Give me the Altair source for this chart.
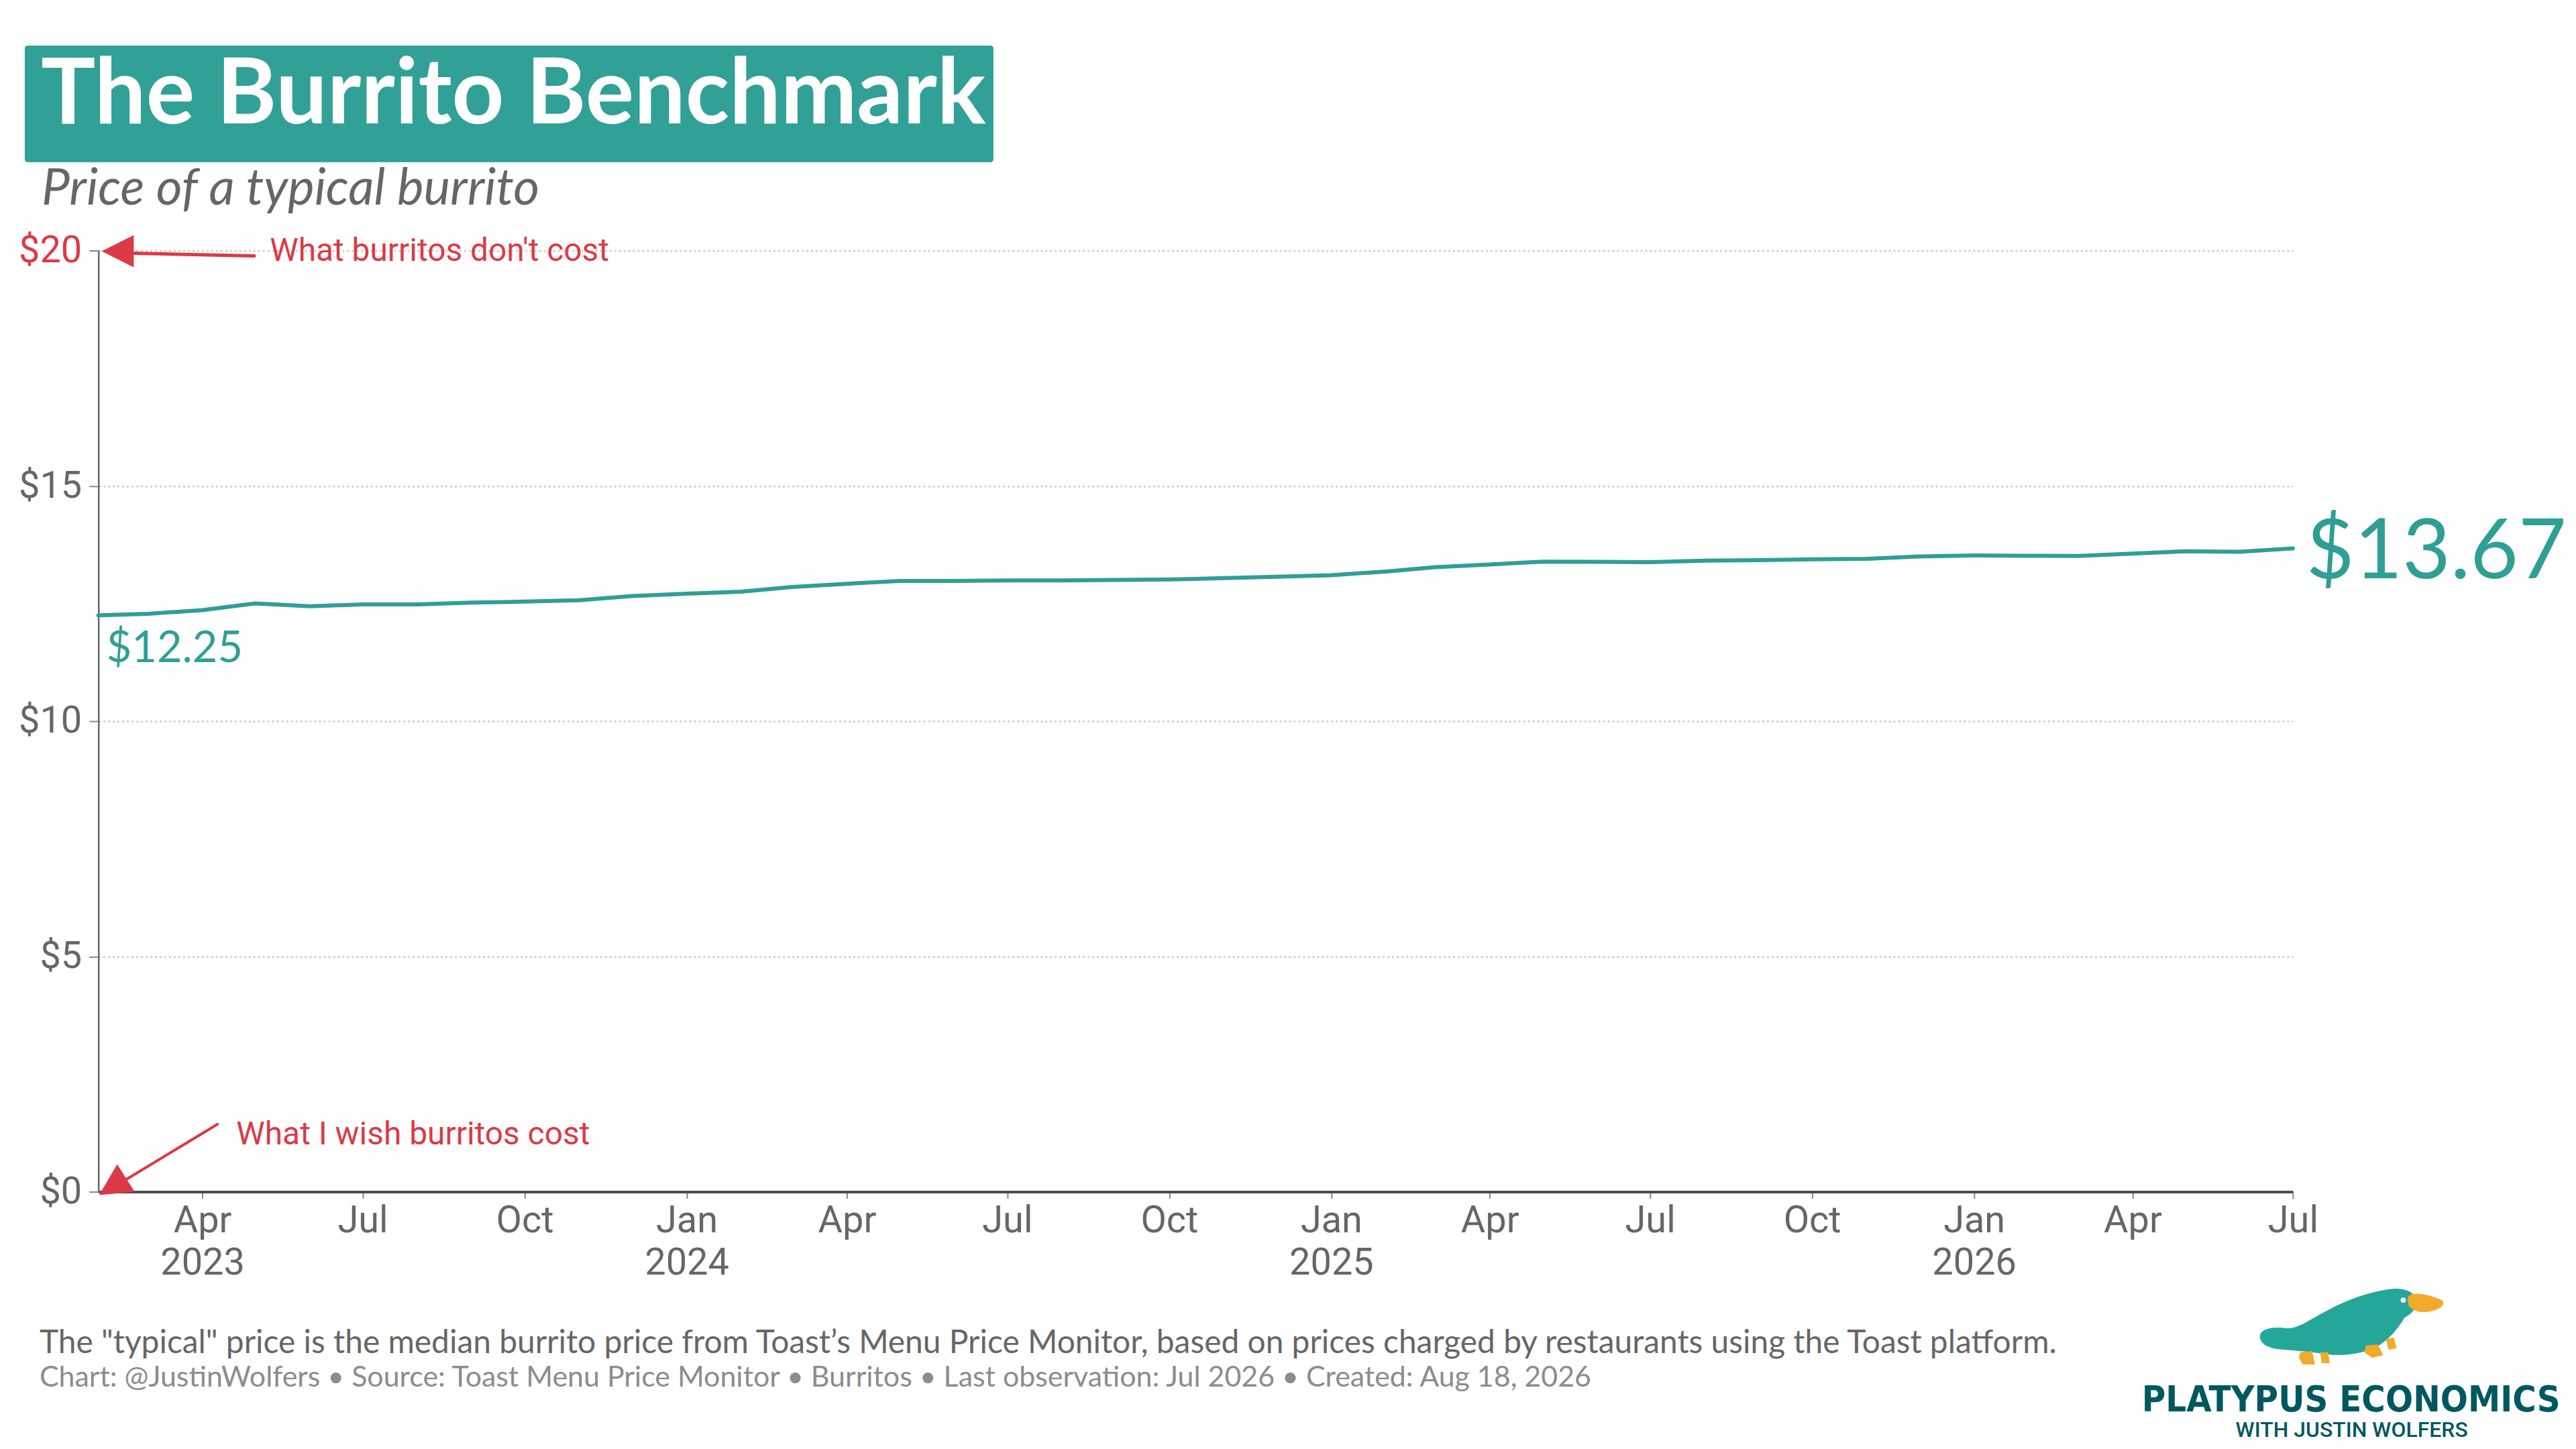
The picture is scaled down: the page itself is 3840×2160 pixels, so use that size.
import altair as alt
import pandas as pd

# ---------------- data ----------------
months = [
    "2023-02-01", "2023-03-01", "2023-04-01", "2023-05-01", "2023-06-01", "2023-07-01",
    "2023-08-01", "2023-09-01", "2023-10-01", "2023-11-01", "2023-12-01",
    "2024-01-01", "2024-02-01", "2024-03-01", "2024-04-01", "2024-05-01", "2024-06-01",
    "2024-07-01", "2024-08-01", "2024-09-01", "2024-10-01", "2024-11-01", "2024-12-01",
    "2025-01-01", "2025-02-01", "2025-03-01", "2025-04-01", "2025-05-01", "2025-06-01",
    "2025-07-01", "2025-08-01", "2025-09-01", "2025-10-01", "2025-11-01", "2025-12-01",
    "2026-01-01", "2026-02-01", "2026-03-01", "2026-04-01", "2026-05-01", "2026-06-01",
    "2026-07-01",
]
prices = [
    12.25, 12.28, 12.36, 12.50, 12.44, 12.48, 12.48, 12.52, 12.54, 12.57, 12.66,
    12.71, 12.75, 12.85, 12.92, 12.98, 12.98, 12.99, 12.99, 13.00, 13.01, 13.04, 13.07,
    13.10, 13.18, 13.27, 13.33, 13.39, 13.385, 13.38, 13.41, 13.42, 13.44, 13.45, 13.50,
    13.52, 13.515, 13.51, 13.56, 13.61, 13.60, 13.67,
]
y_ticks = [0, 5, 10, 15, 20]
x_tick_months = [
    (2023, 4), (2023, 7), (2023, 10), (2024, 1), (2024, 4), (2024, 7), (2024, 10),
    (2025, 1), (2025, 4), (2025, 7), (2025, 10), (2026, 1), (2026, 4), (2026, 7),
]
note_points_date = ["2023-02-01", "2023-02-01"]
note_points_price = [20, 0]

TITLE = "The Burrito Benchmark"
SUBTITLE = "Price of a typical burrito"
NOTE_HIGH = "What burritos don't cost"
NOTE_LOW = "What I wish burritos cost"
FOOT1 = ('The "typical" price is the median burrito price from Toast\u2019s Menu Price Monitor, '
         'based on prices charged by restaurants using the Toast platform.')
FOOT2 = ("Chart: @JustinWolfers \u2022 Source: Toast Menu Price Monitor \u2022 Burritos \u2022 "
         "Last observation: Jul 2026 \u2022 Created: Aug 18, 2026")
LOGO1 = "PLATYPUS ECONOMICS"
LOGO2 = "WITH JUSTIN WOLFERS"

# ---------------- styles ----------------
TEAL = "#2f9f95"
RED = "#db3a46"
GRAY = "#666666"
W, H = 3278, 1406

df = pd.DataFrame({"date": months, "price": prices})
df["label"] = ["$" + format(p, ".2f") for p in prices]
first = df.iloc[[0]]
last = df.iloc[[-1]]
notes = pd.DataFrame({"date": note_points_date, "price": note_points_price})
one = pd.DataFrame({"k": [0]})


def dt(y, m, d=1):
    return alt.DateTime(year=y, month=m, date=d, utc=True)


x_enc = alt.X(
    "date:T",
    scale=alt.Scale(type="utc", domain=[dt(2023, 2), dt(2026, 7)]),
    axis=alt.Axis(
        values=[dt(y, m) for y, m in x_tick_months],
        labelExpr=("(utcmonth(datum.value) == 0 || (utcyear(datum.value) == 2023 && utcmonth(datum.value) == 3))"
                   " ? [utcFormat(datum.value, '%b'), utcFormat(datum.value, '%Y')] : utcFormat(datum.value, '%b')"),
        title=None, grid=False, tickSize=10, tickColor="#888888", tickWidth=2,
        domainColor="#4d4d4d", domainWidth=4, labelFont="Roboto", labelFontSize=56,
        labelColor=GRAY, labelPadding=6, labelBaseline="top", labelLineHeight=63,
        labelFlush=False, labelOverlap=False,
    ),
)
y_enc = alt.Y(
    "price:Q",
    scale=alt.Scale(domain=[0, 20], nice=False, zero=True),
    axis=alt.Axis(
        values=y_ticks, labelExpr="'$' + datum.value", title=None, grid=True,
        gridColor="#c8c8c8", gridDash=[3, 4], gridWidth=2.5, tickSize=14,
        tickColor="#888888", tickWidth=2, domainColor="#666666", domainWidth=2.5,
        labelFont="Roboto", labelFontSize=56,
        labelColor={"condition": {"test": "datum.value == 20", "value": RED}, "value": GRAY},
        labelPadding=11,
    ),
)

line = alt.Chart(df).mark_line(color=TEAL, strokeWidth=6, strokeCap="round").encode(x=x_enc, y=y_enc)

first_label = alt.Chart(first).mark_text(
    font="Lato", fontSize=65, color=TEAL, align="left", baseline="alphabetic", dx=12, dy=70
).encode(x=x_enc, y=y_enc, text="label:N")

last_label = alt.Chart(last).mark_text(
    font="Lato", fontSize=124, color=TEAL, align="left", baseline="alphabetic", dx=20, dy=45
).encode(x=x_enc, y=y_enc, text="label:N")

# arrow heads pointing at $20 and $0
head_top = alt.Chart(notes.iloc[[0]]).mark_point(
    shape="M0.2,0.04L2.2,-0.96L2.2,1.04Z", size=2304, filled=True, color=RED, opacity=1, strokeWidth=0
).encode(x=x_enc, y=y_enc)
head_low = alt.Chart(notes.iloc[[1]]).mark_point(
    shape="M0.04,0.21L1.17,-1.71L2.25,0Z", size=2304, filled=True, color=RED, opacity=1, strokeWidth=0
).encode(x=x_enc, y=y_enc)

shaft_top = alt.Chart(one).mark_rule(color=RED, strokeWidth=5, strokeCap="round").encode(
    x=alt.value(54), y=alt.value(4), x2=alt.value(233), y2=alt.value(8))
shaft_low = alt.Chart(one).mark_rule(color=RED, strokeWidth=4, strokeCap="round").encode(
    x=alt.value(41), y=alt.value(H - 18), x2=alt.value(178), y2=alt.value(H - 101))

note_high = alt.Chart(one).mark_text(
    text=NOTE_HIGH, font="Roboto", fontSize=48, color=RED, align="left", baseline="alphabetic"
).encode(x=alt.value(256), y=alt.value(16))
note_low = alt.Chart(one).mark_text(
    text=NOTE_LOW, font="Roboto", fontSize=48, color=RED, align="left", baseline="alphabetic"
).encode(x=alt.value(206), y=alt.value(H - 71))

# title block
title_box = alt.Chart(one).mark_rect(color="#31a096", cornerRadius=4).encode(
    x=alt.value(-110), x2=alt.value(1337), y=alt.value(-306), y2=alt.value(-132))
title_txt = alt.Chart(one).mark_text(
    text=TITLE, font="Lato", fontWeight="bold", fontSize=136, color="white",
    align="left", baseline="alphabetic"
).encode(x=alt.value(-86), y=alt.value(-190))
subtitle_txt = alt.Chart(one).mark_text(
    text=SUBTITLE, font="Lato", fontStyle="italic", fontSize=75, color=GRAY,
    align="left", baseline="alphabetic"
).encode(x=alt.value(-85), y=alt.value(-69))

foot1 = alt.Chart(one).mark_text(
    text=FOOT1, font="Lato", fontSize=48, color=GRAY, align="left", baseline="alphabetic"
).encode(x=alt.value(-88), y=alt.value(1647))
foot2 = alt.Chart(one).mark_text(
    text=FOOT2, font="Lato", fontSize=43, color="#8c8c8c", align="left", baseline="alphabetic"
).encode(x=alt.value(-88), y=alt.value(1697))

# logo
BODY = ("M2,74 C0,62 18,56 42,60 C62,60 80,44 105,32 C135,16 170,4 200,1 C218,-1 232,6 236,16 "
        "C238,28 230,38 218,44 C208,60 196,76 176,88 C150,100 120,102 96,98 C76,95 60,94 40,92 "
        "C18,91 4,86 2,74 Z")
YELLOW = ("M226,10 C238,6 256,10 274,18 C280,24 272,32 254,35 C240,37 230,34 224,26 C222,18 222,13 226,10 Z "
          "M160,86 L178,84 L186,100 L170,104 L158,96 Z M190,76 L202,74 L206,90 L194,92 Z "
          "M62,96 L80,94 L84,114 L66,114 L60,104 Z M92,96 L104,96 L106,112 L94,112 Z")
logo_body = alt.Chart(one).mark_point(
    shape=BODY, size=4, filled=True, color="#25a69a", opacity=1, strokeWidth=0
).encode(x=alt.value(3227), y=alt.value(1550))
logo_yellow = alt.Chart(one).mark_point(
    shape=YELLOW, size=4, filled=True, color="#f2aa2b", opacity=1, strokeWidth=0
).encode(x=alt.value(3227), y=alt.value(1550))
logo_eye = alt.Chart(one).mark_point(
    shape="circle", size=60, filled=True, color="white", opacity=1, strokeWidth=0
).encode(x=alt.value(3227 + 216), y=alt.value(1550 + 18))
logo_t1 = alt.Chart(one).mark_text(
    text=LOGO1, font="'DejaVu Sans Condensed', Roboto, sans-serif", fontWeight="bold", fontSize=54,
    color="#00585f", align="center", baseline="alphabetic"
).encode(x=alt.value(3365), y=alt.value(1734))
logo_t2 = alt.Chart(one).mark_text(
    text=LOGO2, font="Roboto", fontWeight=500, fontSize=32, color="#00585f",
    align="center", baseline="alphabetic"
).encode(x=alt.value(3366), y=alt.value(1772))

chart = alt.layer(
    title_box, title_txt, subtitle_txt,
    line, first_label, last_label,
    shaft_top, shaft_low, head_top, head_low, note_high, note_low,
    foot1, foot2, logo_body, logo_yellow, logo_eye, logo_t1, logo_t2,
).properties(
    width=W, height=H, autosize="none",
    padding={"left": 139, "top": 364, "right": 415, "bottom": 374},
    background="white",
).configure_view(stroke=None)

chart.save("out.html", embed_options={"renderer": "svg", "actions": False})
